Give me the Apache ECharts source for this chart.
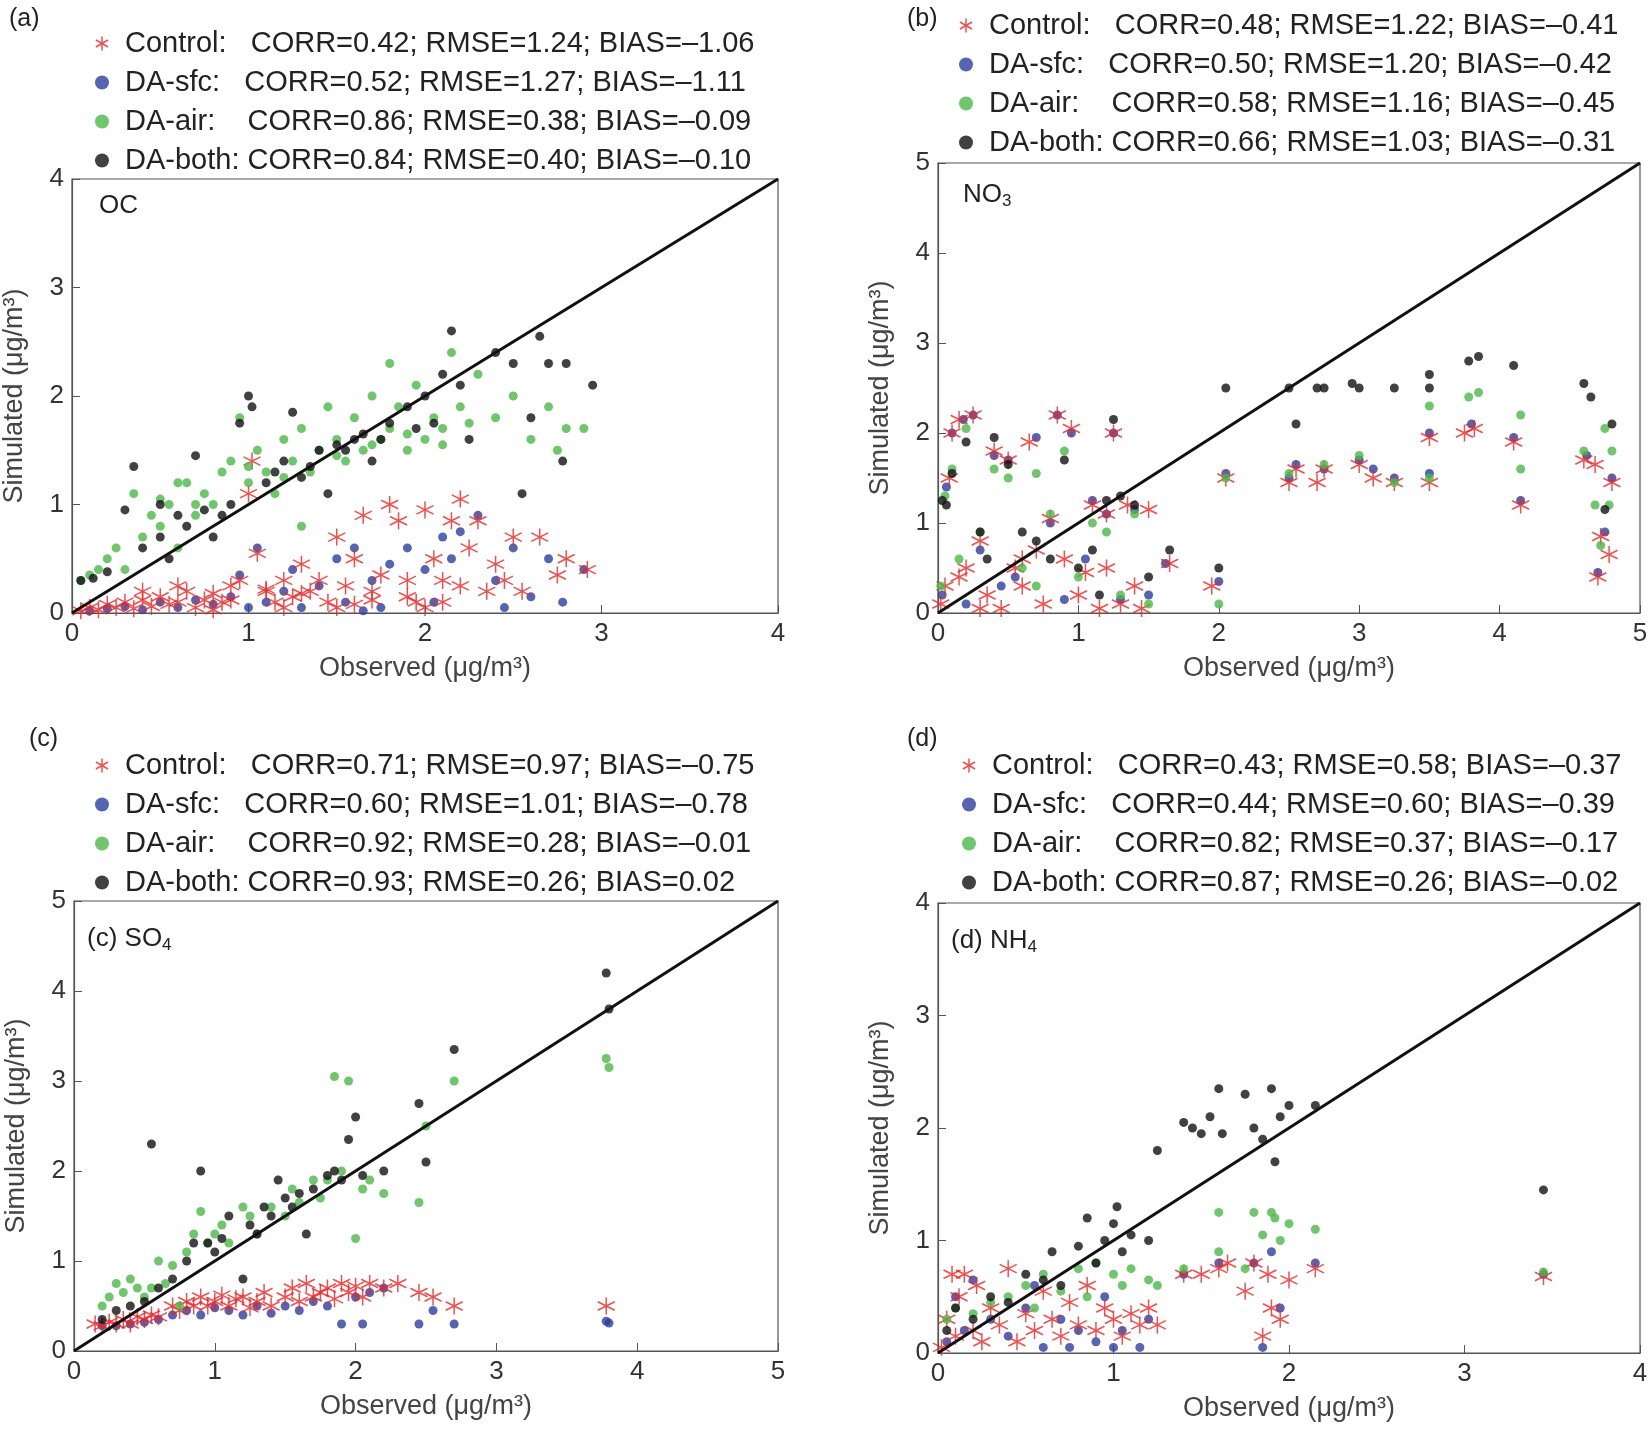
<!DOCTYPE html><html><head><meta charset="utf-8"><script src="https://cdn.jsdelivr.net/npm/echarts@6/dist/echarts.min.js"></script>
<style>body{margin:0}#c{width:1652px;height:1430px}</style></head><body><div id="c"></div><script>
const ctrlA=[[0.05,0.02],[0.1,0.05],[0.15,0.03],[0.2,0.08],[0.25,0.05],[0.3,0.1],[0.35,0.04],[0.4,0.12],[0.45,0.06],[0.5,0.15],[0.55,0.08],[0.6,0.1],[0.65,0.2],[0.7,0.05],[0.75,0.12],[0.8,0.18],[0.85,0.1],[0.9,0.25],[0.95,0.3],[1.0,1.1],[1.02,1.4],[1.05,0.55],[1.1,0.2],[1.15,0.1],[1.2,0.3],[1.25,0.15],[1.3,0.45],[1.35,0.2],[1.4,0.3],[1.45,0.1],[1.5,0.7],[1.55,0.25],[1.6,0.5],[1.65,0.9],[1.7,0.2],[1.75,0.35],[1.8,1.0],[1.85,0.85],[1.9,0.3],[1.95,0.1],[2.0,0.95],[2.05,0.5],[2.1,0.3],[2.15,0.85],[2.2,1.05],[2.25,0.6],[2.3,0.85],[2.35,0.2],[2.4,0.45],[2.45,0.3],[2.5,0.7],[2.55,0.2],[2.65,0.7],[2.75,0.35],[2.8,0.5],[2.92,0.4],[1.2,0.05],[0.8,0.03],[1.6,0.08],[2.0,0.05],[0.6,0.25],[0.9,0.12],[1.1,0.22],[1.3,0.18],[1.5,0.05],[1.7,0.12],[1.9,0.15],[2.1,0.1],[2.2,0.25],[0.4,0.2]];
const sfcA=[[0.1,0.02],[0.2,0.04],[0.3,0.06],[0.4,0.03],[0.5,0.1],[0.6,0.05],[0.7,0.12],[0.8,0.08],[0.9,0.15],[1.0,0.05],[1.05,0.6],[1.1,0.1],[1.2,0.2],[1.3,0.05],[1.4,0.25],[1.5,0.5],[1.55,0.1],[1.6,0.6],[1.7,0.3],[1.75,0.05],[1.8,0.45],[1.9,0.6],[2.0,0.4],[2.05,0.1],[2.1,0.7],[2.15,0.5],[2.2,0.75],[2.3,0.9],[2.4,0.3],[2.45,0.05],[2.5,0.6],[2.6,0.15],[2.7,0.5],[2.78,0.1],[2.9,0.4],[1.25,0.4],[0.95,0.35],[1.65,0.02]];
const airA=[[0.05,0.3],[0.1,0.35],[0.15,0.4],[0.2,0.5],[0.25,0.6],[0.3,0.4],[0.35,1.1],[0.4,0.7],[0.45,0.9],[0.5,0.8],[0.55,1.0],[0.6,0.6],[0.65,1.2],[0.7,0.9],[0.75,1.1],[0.8,1.0],[0.85,1.3],[0.9,1.4],[0.95,1.8],[1.0,1.2],[1.05,1.5],[1.1,1.3],[1.15,1.1],[1.2,1.6],[1.25,1.4],[1.3,1.7],[1.35,1.3],[1.4,1.5],[1.45,1.9],[1.5,1.6],[1.55,1.4],[1.6,1.8],[1.65,1.5],[1.7,2.0],[1.75,1.6],[1.8,1.7],[1.85,1.9],[1.9,1.5],[1.95,2.1],[2.0,1.6],[2.05,1.8],[2.1,1.7],[2.15,2.4],[2.2,1.9],[2.3,2.2],[2.4,1.8],[2.5,2.0],[2.6,1.6],[2.7,1.9],[2.8,1.7],[2.9,1.7],[2.75,1.5],[1.3,0.8],[0.6,1.2],[1.8,2.3],[0.5,1.05],[0.7,1.0],[1.0,1.35],[1.2,1.25],[1.5,1.45],[1.7,1.55],[1.9,1.65],[2.1,1.55],[2.25,1.75]];
const bothA=[[0.05,0.3],[0.12,0.32],[0.2,0.38],[0.3,0.95],[0.35,1.35],[0.4,0.6],[0.5,0.7],[0.55,0.5],[0.6,0.9],[0.7,1.45],[0.75,0.95],[0.8,0.7],[0.9,1.0],[0.95,1.75],[1.0,2.0],[1.02,1.9],[1.1,1.2],[1.2,1.4],[1.3,1.25],[1.4,1.5],[1.45,1.1],[1.5,1.55],[1.6,1.6],[1.65,1.65],[1.7,1.4],[1.8,1.75],[1.9,1.9],[2.0,2.0],[2.05,1.75],[2.1,2.2],[2.15,2.6],[2.2,2.1],[2.25,1.6],[2.4,2.4],[2.5,2.3],[2.55,1.1],[2.65,2.55],[2.7,2.3],[2.8,2.3],[2.78,1.4],[2.95,2.1],[2.6,1.8],[1.25,1.85],[0.5,1.0],[0.65,0.8],[0.85,0.9],[1.15,1.3],[1.35,1.35],[1.55,1.5],[1.75,1.6],[1.95,1.7]];
const ctrlB=[[0.02,0.1],[0.05,0.3],[0.08,1.5],[0.1,2.0],[0.15,2.15],[0.2,0.5],[0.25,2.2],[0.3,0.8],[0.35,0.2],[0.4,1.8],[0.45,0.05],[0.5,1.7],[0.55,0.5],[0.6,0.3],[0.65,1.9],[0.7,0.7],[0.75,0.1],[0.8,1.05],[0.85,2.2],[0.9,0.6],[0.95,2.05],[1.0,0.2],[1.05,0.45],[1.1,1.2],[1.15,0.05],[1.2,1.1],[1.25,2.0],[1.3,0.1],[1.35,1.2],[1.4,0.3],[1.45,0.05],[1.5,1.15],[1.65,0.55],[1.95,0.3],[2.05,1.5],[2.5,1.45],[2.55,1.6],[2.7,1.45],[2.75,1.6],[3.0,1.65],[3.1,1.5],[3.25,1.45],[3.5,1.45],[3.5,1.95],[3.75,2.0],[3.82,2.05],[4.1,1.9],[4.15,1.2],[4.6,1.7],[4.68,1.65],[4.7,0.4],[4.72,0.85],[4.78,0.65],[4.8,1.45],[0.3,0.05],[0.15,0.4],[0.6,0.6],[1.2,0.5]];
const sfcB=[[0.03,0.2],[0.06,1.4],[0.1,2.0],[0.18,2.15],[0.25,2.2],[0.3,0.7],[0.4,1.75],[0.5,1.7],[0.55,0.4],[0.7,1.95],[0.8,1.0],[0.85,2.2],[0.95,2.0],[1.05,0.6],[1.1,1.25],[1.2,1.1],[1.25,2.0],[1.3,0.15],[1.4,1.15],[1.5,0.2],[1.62,0.55],[2.0,0.35],[2.05,1.55],[2.5,1.5],[2.55,1.65],[2.75,1.6],[3.0,1.7],[3.1,1.6],[3.25,1.5],[3.5,1.55],[3.5,2.0],[3.8,2.1],[4.1,1.95],[4.15,1.25],[4.62,1.75],[4.7,0.45],[4.75,0.9],[4.8,1.5],[0.2,0.1],[0.9,0.15],[0.45,0.3]];
const airB=[[0.02,0.3],[0.05,1.3],[0.1,1.6],[0.2,2.05],[0.3,0.9],[0.4,1.6],[0.5,1.5],[0.6,0.5],[0.7,1.55],[0.8,1.1],[0.9,1.8],[1.0,0.4],[1.1,1.0],[1.2,0.9],[1.3,0.2],[1.4,1.1],[1.5,0.1],[2.0,0.1],[2.05,1.5],[2.5,1.55],[2.75,1.65],[3.0,1.75],[3.25,1.45],[3.5,1.5],[3.5,2.3],[3.78,2.4],[3.85,2.45],[4.15,2.2],[4.15,1.6],[4.6,1.8],[4.68,1.2],[4.72,0.75],[4.78,1.2],[4.8,1.8],[4.75,2.05],[0.15,0.6],[0.7,0.3]];
const bothB=[[0.03,1.25],[0.06,1.2],[0.1,1.55],[0.2,1.9],[0.3,0.9],[0.4,1.95],[0.5,1.65],[0.6,0.9],[0.7,0.8],[0.8,0.6],[0.9,1.7],[1.0,0.5],[1.1,0.7],[1.2,1.25],[1.25,2.15],[1.3,1.3],[1.4,1.2],[1.5,0.4],[1.65,0.7],[2.0,0.5],[2.05,2.5],[2.5,2.5],[2.55,2.1],[2.7,2.5],[2.75,2.5],[2.95,2.55],[3.0,2.5],[3.25,2.5],[3.5,2.65],[3.5,2.5],[3.78,2.8],[3.85,2.85],[4.1,2.75],[4.6,2.55],[4.65,2.4],[4.75,1.15],[4.8,2.1],[0.35,0.6],[1.15,0.2]];
const ctrlC=[[0.15,0.3],[0.2,0.28],[0.25,0.32],[0.3,0.3],[0.35,0.35],[0.4,0.3],[0.45,0.38],[0.5,0.35],[0.55,0.4],[0.6,0.38],[0.7,0.5],[0.75,0.45],[0.8,0.55],[0.85,0.5],[0.9,0.6],[0.95,0.5],[1.0,0.55],[1.05,0.62],[1.1,0.5],[1.15,0.58],[1.2,0.6],[1.25,0.48],[1.3,0.55],[1.35,0.65],[1.4,0.5],[1.5,0.6],[1.55,0.7],[1.6,0.55],[1.65,0.75],[1.7,0.6],[1.75,0.65],[1.8,0.7],[1.85,0.58],[1.9,0.75],[1.95,0.65],[2.0,0.72],[2.05,0.6],[2.1,0.75],[2.2,0.7],[2.3,0.75],[2.45,0.65],[2.55,0.6],[2.7,0.5],[3.78,0.5]];
const sfcC=[[0.2,0.28],[0.3,0.28],[0.4,0.3],[0.5,0.32],[0.6,0.35],[0.7,0.4],[0.8,0.45],[0.9,0.4],[1.0,0.48],[1.1,0.45],[1.2,0.4],[1.3,0.5],[1.4,0.42],[1.5,0.5],[1.6,0.45],[1.7,0.55],[1.8,0.5],[1.9,0.3],[2.0,0.6],[2.05,0.3],[2.1,0.65],[2.2,0.7],[2.45,0.3],[2.55,0.45],[2.7,0.3],[3.78,0.33],[3.8,0.31]];
const airC=[[0.2,0.5],[0.25,0.6],[0.3,0.75],[0.35,0.65],[0.4,0.8],[0.45,0.7],[0.5,0.6],[0.55,0.7],[0.6,1.0],[0.65,0.75],[0.7,0.95],[0.8,1.1],[0.85,1.3],[0.9,1.55],[0.95,1.2],[1.0,1.3],[1.05,1.4],[1.1,1.2],[1.2,1.6],[1.25,1.5],[1.3,1.3],[1.4,1.6],[1.5,1.5],[1.55,1.8],[1.6,1.65],[1.7,1.9],[1.75,1.7],[1.8,1.9],[1.85,3.05],[1.9,2.0],[1.95,3.0],[2.0,1.25],[2.05,1.8],[2.1,1.9],[2.2,1.75],[2.45,1.65],[2.5,2.5],[2.7,3.0],[3.78,3.25],[3.8,3.15],[0.75,0.5]];
const bothC=[[0.2,0.35],[0.3,0.45],[0.4,0.5],[0.5,0.55],[0.55,2.3],[0.6,0.7],[0.7,0.8],[0.8,1.0],[0.85,1.2],[0.9,2.0],[0.95,1.2],[1.0,1.1],[1.05,1.25],[1.1,1.5],[1.2,0.8],[1.25,1.4],[1.3,1.3],[1.35,1.6],[1.4,1.5],[1.5,1.7],[1.55,1.6],[1.6,1.75],[1.65,1.3],[1.7,1.8],[1.8,1.95],[1.85,2.0],[1.9,1.9],[1.95,2.35],[2.0,2.6],[2.05,1.95],[2.2,2.0],[2.45,2.75],[2.5,2.1],[2.7,3.35],[3.78,4.2],[3.8,3.8],[1.45,1.9]];
const ctrlD=[[0.02,0.05],[0.05,0.3],[0.08,0.7],[0.1,0.15],[0.12,0.5],[0.15,0.7],[0.2,0.2],[0.22,0.6],[0.25,0.1],[0.3,0.4],[0.35,0.25],[0.4,0.75],[0.45,0.1],[0.5,0.35],[0.55,0.2],[0.6,0.55],[0.65,0.3],[0.7,0.15],[0.75,0.45],[0.8,0.25],[0.85,0.6],[0.9,0.2],[0.95,0.4],[1.0,0.3],[1.05,0.15],[1.1,0.35],[1.15,0.25],[1.2,0.4],[1.25,0.25],[1.4,0.7],[1.5,0.7],[1.6,0.75],[1.65,0.8],[1.75,0.55],[1.8,0.8],[1.85,0.15],[1.88,0.7],[1.9,0.4],[1.95,0.3],[2.0,0.65],[2.15,0.75],[3.45,0.68]];
const sfcD=[[0.05,0.1],[0.1,0.5],[0.15,0.2],[0.2,0.65],[0.3,0.3],[0.4,0.15],[0.5,0.4],[0.6,0.05],[0.7,0.3],[0.75,0.05],[0.8,0.2],[0.9,0.1],[1.0,0.05],[1.05,0.2],[1.15,0.05],[1.2,0.3],[1.4,0.7],[1.6,0.8],[1.8,0.8],[1.85,0.05],[1.9,0.9],[1.95,0.4],[2.15,0.8],[3.45,0.7],[0.55,0.6],[0.95,0.5]];
const airD=[[0.05,0.3],[0.1,0.4],[0.2,0.35],[0.3,0.45],[0.4,0.5],[0.5,0.6],[0.55,0.4],[0.6,0.7],[0.7,0.55],[0.8,0.75],[0.85,0.5],[0.9,0.8],[1.0,0.7],[1.05,0.6],[1.1,0.75],[1.2,0.65],[1.25,0.6],[1.4,0.75],[1.6,1.25],[1.6,0.9],[1.75,0.75],[1.8,1.25],[1.85,1.05],[1.9,1.25],[1.92,1.2],[1.95,1.0],[2.0,1.15],[2.15,1.1],[3.45,0.72]];
const bothD=[[0.05,0.2],[0.1,0.4],[0.2,0.3],[0.3,0.5],[0.4,0.45],[0.5,0.7],[0.6,0.65],[0.65,0.9],[0.7,0.6],[0.8,0.95],[0.85,1.2],[0.9,0.8],[0.95,1.0],[1.0,1.15],[1.02,1.3],[1.05,0.9],[1.1,1.05],[1.2,1.0],[1.25,1.8],[1.4,2.05],[1.45,2.0],[1.5,1.95],[1.55,2.1],[1.6,2.35],[1.62,1.95],[1.75,2.3],[1.8,2.0],[1.85,1.9],[1.9,2.35],[1.92,1.7],[1.95,2.1],[2.0,2.2],[2.15,2.2],[3.45,1.45]];
const panels=[
 {max:4,data:[ctrlA,sfcA,airA,bothA],stats:['CORR=0.42; RMSE=1.24; BIAS=\u20131.06','CORR=0.52; RMSE=1.27; BIAS=\u20131.11','CORR=0.86; RMSE=0.38; BIAS=\u20130.09','CORR=0.84; RMSE=0.40; BIAS=\u20130.10']},
 {max:5,data:[ctrlB,sfcB,airB,bothB],stats:['CORR=0.48; RMSE=1.22; BIAS=\u20130.41','CORR=0.50; RMSE=1.20; BIAS=\u20130.42','CORR=0.58; RMSE=1.16; BIAS=\u20130.45','CORR=0.66; RMSE=1.03; BIAS=\u20130.31']},
 {max:5,data:[ctrlC,sfcC,airC,bothC],stats:['CORR=0.71; RMSE=0.97; BIAS=\u20130.75','CORR=0.60; RMSE=1.01; BIAS=\u20130.78','CORR=0.92; RMSE=0.28; BIAS=\u20130.01','CORR=0.93; RMSE=0.26; BIAS=0.02']},
 {max:4,data:[ctrlD,sfcD,airD,bothD],stats:['CORR=0.43; RMSE=0.58; BIAS=\u20130.37','CORR=0.44; RMSE=0.60; BIAS=\u20130.39','CORR=0.82; RMSE=0.37; BIAS=\u20130.17','CORR=0.87; RMSE=0.26; BIAS=\u20130.02']}];
const labels=['Control:   ','DA-sfc:   ','DA-air:    ','DA-both: '];
const colors=['#ee2222','#2b3fa0','#4cb848','#111111'];
const star='path://M0,-10L0,10M-8.66,-5L8.66,5M-8.66,5L8.66,-5';
const grids=[{left:72,top:179,width:706,height:434},{left:938,top:163,width:702,height:450},{left:74,top:901,width:704,height:450},{left:938,top:903,width:702,height:450}];
const legPos=[[90,22],[954,4],[90,744],[957,744]];
const F='Liberation Sans, Arial, sans-serif';
const opt={animation:false,backgroundColor:'#fff',textStyle:{fontFamily:F},grid:grids.map(g=>Object.assign({show:true,borderColor:'#555',borderWidth:1.2,backgroundColor:'transparent'},g)),xAxis:[],yAxis:[],series:[],legend:[],title:[]};
const ax=(i,max,name,isY)=>({gridIndex:i,min:0,max:max,interval:1,name:name,nameLocation:'middle',nameGap:isY?44:42,nameTextStyle:{fontSize:27,color:'#444',fontFamily:F},axisLine:{show:true,lineStyle:{color:'#555',width:1.2}},axisTick:{show:true,inside:true,length:8,lineStyle:{color:'#555'}},axisLabel:{fontSize:26,color:'#333',margin:8,fontFamily:F},splitLine:{show:false}});
panels.forEach((p,i)=>{
 opt.xAxis.push(ax(i,p.max,'Observed (\u03bcg/m\u00b3)',false));
 opt.yAxis.push(ax(i,p.max,'Simulated (\u03bcg/m\u00b3)',true));
 const names=labels.map((l,k)=>l+p.stats[k]+'\u200b'.repeat(i));
 [1,0,2,3].forEach(k=>{
  opt.series.push({type:'scatter',name:names[k],xAxisIndex:i,yAxisIndex:i,data:p.data[k],
   symbol:k===0?star:'circle',symbolSize:k===0?17:9,
   itemStyle:k===0?{color:'rgba(0,0,0,0)',borderColor:colors[0],borderWidth:1.5}:{color:colors[k]}});
 });
 opt.series.push({type:'line',xAxisIndex:i,yAxisIndex:i,data:[[0,0],[p.max,p.max]],symbol:'none',lineStyle:{color:'#111',width:3},z:5,silent:true});
 opt.legend.push({left:legPos[i][0],top:legPos[i][1],orient:'vertical',itemGap:6,itemWidth:20,itemHeight:14,data:names.map((n,k)=>({name:n,icon:k===0?star:'circle',itemStyle:k===0?{color:'rgba(0,0,0,0)',borderColor:colors[0],borderWidth:1.5}:{color:colors[k]}})),textStyle:{fontSize:29,lineHeight:33,color:'#222',fontFamily:F,padding:[0,0,0,8]},selectedMode:false});
});
const tt=[['OC',[94,188]],['NO{s|3}',[958,174]],['(c) SO{s|4}',[82,918]],['(d) NH{s|4}',[946,920]]];
tt.forEach(t=>opt.title.push({text:t[0],left:t[1][0],top:t[1][1],textStyle:{fontSize:26,fontWeight:'normal',color:'#222',fontFamily:F,rich:{s:{fontSize:17,verticalAlign:'bottom',padding:[14,0,0,0],color:'#222'}}}}));
[['(a)',[4,2]],['(b)',[902,2]],['(c)',[24,722]],['(d)',[902,722]]].forEach(t=>opt.title.push({text:t[0],left:t[1][0],top:t[1][1],textStyle:{fontSize:25,fontWeight:'normal',color:'#222',fontFamily:F}}));
echarts.init(document.getElementById('c')).setOption(opt);
</script></body></html>
